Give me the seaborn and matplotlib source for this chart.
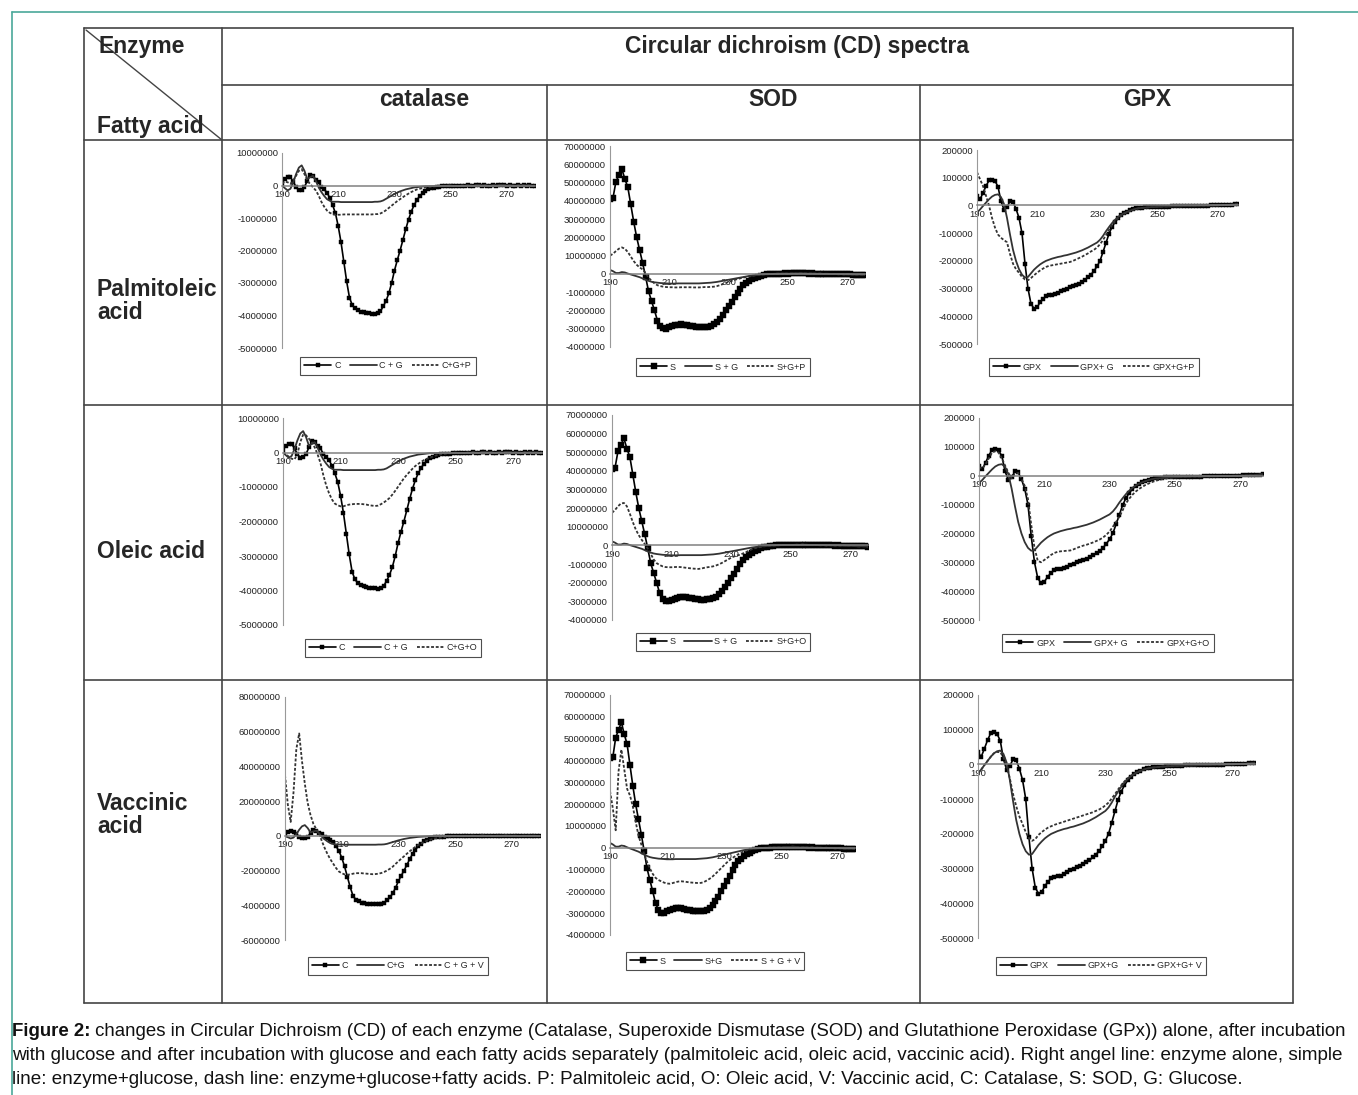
import numpy as np
import matplotlib
matplotlib.use("Agg")
import matplotlib.pyplot as plt
from matplotlib import font_manager
import seaborn as sns

# wavelength grids (nm) for each enzyme
cat_nm = np.arange(190, 281)
sod_nm = np.arange(190, 277)
gpx_nm = np.arange(190, 278)

# ---- Catalase, 190-250 nm (units of the tick steps) ----
cat_c_head = [
    0.05, 0.2, 0.26, 0.25, 0.12, -0.05, -0.15, -0.14, -0.05, 0.15,
    0.32, 0.3, 0.18, 0.12, -0.04, -0.12, -0.22, -0.38, -0.6, -0.85,
    -1.25, -1.75, -2.35, -2.95, -3.45, -3.68, -3.78, -3.84, -3.88, -3.9,
    -3.92, -3.93, -3.94, -3.95, -3.92, -3.87, -3.72, -3.55, -3.32, -3.0,
    -2.62, -2.3, -2.0, -1.68, -1.35, -1.05, -0.8, -0.6, -0.45, -0.32,
    -0.24, -0.17, -0.12, -0.09, -0.07, -0.05, -0.04, -0.03, -0.03, -0.02,
    -0.02]
cat_g_head = [
    0.0, -0.08, -0.15, -0.1, 0.1, 0.35, 0.55, 0.62, 0.45, 0.2,
    0.25, 0.3, 0.15, -0.05, -0.2, -0.32, -0.42, -0.47, -0.5, -0.5,
    -0.5, -0.51, -0.51, -0.51, -0.51, -0.51, -0.51, -0.51, -0.51, -0.51,
    -0.51, -0.51, -0.51, -0.5, -0.5, -0.49, -0.46, -0.41, -0.36, -0.31,
    -0.26, -0.22, -0.18, -0.15, -0.12, -0.1, -0.08, -0.06, -0.05, -0.04,
    -0.03, -0.02, -0.02, -0.02, -0.02, -0.02, -0.01, -0.01, -0.01, -0.01,
    0.0]
cat_p_head = [
    0.05, 0.12, 0.1, 0.05, 0.15, 0.3, 0.45, 0.5, 0.35, 0.15,
    0.05, -0.05, -0.15, -0.3, -0.5, -0.65, -0.77, -0.84, -0.88, -0.9,
    -0.9, -0.9, -0.89, -0.89, -0.89, -0.89, -0.89, -0.89, -0.89, -0.89,
    -0.89, -0.89, -0.89, -0.88, -0.88, -0.86, -0.82, -0.76, -0.69, -0.62,
    -0.55, -0.48, -0.42, -0.36, -0.3, -0.25, -0.2, -0.16, -0.12, -0.1,
    -0.08, -0.06, -0.05, -0.04, -0.03, -0.02, -0.01, -0.01, -0.01, 0.0,
    0.0]
cat_o_head = [
    0.0, -0.05, -0.12, -0.18, -0.2, -0.05, 0.3, 0.52, 0.5, 0.4,
    0.3, 0.15, -0.05, -0.3, -0.65, -0.95, -1.18, -1.36, -1.48, -1.53,
    -1.56, -1.56, -1.53, -1.51, -1.5, -1.49, -1.49, -1.49, -1.5, -1.51,
    -1.53, -1.54, -1.55, -1.54, -1.5, -1.45, -1.39, -1.32, -1.22, -1.11,
    -0.99, -0.87, -0.75, -0.65, -0.56, -0.47, -0.39, -0.33, -0.27, -0.22,
    -0.18, -0.15, -0.12, -0.09, -0.07, -0.05, -0.04, -0.03, -0.02, -0.02,
    -0.01]
cat_v_head = [
    3.5, 1.8, 0.8, 2.5, 5.0, 5.9, 4.3, 3.0, 1.9, 1.2,
    0.7, 0.4, 0.15, -0.3, -0.7, -1.05, -1.35, -1.6, -1.85, -2.05,
    -2.15, -2.22, -2.24, -2.22, -2.18, -2.15, -2.15, -2.15, -2.17, -2.18,
    -2.2, -2.21, -2.2, -2.18, -2.14, -2.08, -2.0, -1.9, -1.78, -1.62,
    -1.47, -1.32, -1.18, -1.03, -0.89, -0.76, -0.64, -0.53, -0.44, -0.36,
    -0.29, -0.24, -0.19, -0.15, -0.12, -0.1, -0.08, -0.06, -0.04, -0.03,
    -0.02]
# 251-280 nm, nearly flat
cat_tail = [
    -0.02, -0.01, -0.02, 0.0, -0.01, 0.01, 0.0, -0.01, 0.01, 0.02,
    0.0, 0.01, 0.0, -0.01, 0.01, 0.0, 0.01, 0.02, 0.01, 0.0,
    0.01, 0.0, -0.01, 0.01, 0.0, 0.01, 0.0, 0.01, -0.01, 0.0]

# ---- SOD, 190-244 nm ----
sod_s_head = [
    4.1, 4.15, 5.05, 5.4, 5.75, 5.2, 4.75, 3.8, 2.85, 2.0,
    1.3, 0.6, -0.15, -0.95, -1.48, -2.0, -2.55, -2.85, -2.97, -3.0,
    -2.92, -2.85, -2.8, -2.77, -2.76, -2.77, -2.8, -2.84, -2.87, -2.9,
    -2.92, -2.92, -2.9, -2.88, -2.84, -2.75, -2.62, -2.45, -2.25, -2.0,
    -1.75, -1.52, -1.28, -1.02, -0.8, -0.62, -0.5, -0.4, -0.3, -0.22,
    -0.15, -0.1, -0.06, -0.03, -0.01]
sod_g_head = [
    0.22, 0.15, 0.05, 0.05, 0.1, 0.08, 0.02, -0.03, -0.08, -0.13,
    -0.18, -0.25, -0.32, -0.38, -0.43, -0.46, -0.48, -0.5, -0.51, -0.52,
    -0.53, -0.53, -0.53, -0.52, -0.52, -0.52, -0.52, -0.52, -0.52, -0.52,
    -0.52, -0.51, -0.5, -0.49, -0.48, -0.46, -0.44, -0.41, -0.38, -0.35,
    -0.32, -0.29, -0.26, -0.23, -0.2, -0.17, -0.14, -0.11, -0.09, -0.07,
    -0.05, -0.04, -0.03, -0.02, -0.01]
sod_p_head = [
    1.0, 1.1, 1.25, 1.38, 1.45, 1.38, 1.2, 0.95, 0.7, 0.5,
    0.35, 0.25, 0.05, -0.2, -0.38, -0.52, -0.62, -0.67, -0.7, -0.72,
    -0.73, -0.73, -0.74, -0.74, -0.73, -0.73, -0.73, -0.73, -0.74, -0.74,
    -0.74, -0.73, -0.72, -0.72, -0.71, -0.7, -0.67, -0.62, -0.56, -0.5,
    -0.44, -0.38, -0.33, -0.28, -0.24, -0.2, -0.17, -0.14, -0.11, -0.08,
    -0.06, -0.04, -0.03, -0.02, -0.01]
sod_o_head = [
    1.75, 1.9, 2.1, 2.25, 2.28, 2.1, 1.7, 1.25, 0.85, 0.55,
    0.3, 0.08, -0.17, -0.45, -0.75, -0.95, -1.05, -1.12, -1.16, -1.17,
    -1.17, -1.16, -1.15, -1.16, -1.18, -1.2, -1.22, -1.24, -1.25, -1.26,
    -1.24, -1.2, -1.17, -1.15, -1.12, -1.07, -1.01, -0.93, -0.84, -0.75,
    -0.66, -0.59, -0.54, -0.5, -0.43, -0.36, -0.28, -0.2, -0.15, -0.11,
    -0.08, -0.05, -0.03, -0.02, -0.01]
sod_v_head = [
    2.6, 1.8, 0.8, 3.5, 4.5, 3.6, 2.7, 2.4, 1.9, 1.2,
    0.55, 0.15, -0.3, -0.65, -0.95, -1.2, -1.38, -1.48, -1.54, -1.6,
    -1.64, -1.65, -1.62, -1.58, -1.55, -1.54, -1.55, -1.57, -1.59, -1.6,
    -1.61, -1.62, -1.61, -1.57, -1.5, -1.42, -1.32, -1.2, -1.07, -0.94,
    -0.81, -0.68, -0.57, -0.47, -0.38, -0.3, -0.23, -0.17, -0.12, -0.08,
    -0.05, -0.03, -0.02, -0.01, 0.0]
# 245-276 nm
sod_tail = [
    0.0, 0.01, 0.02, 0.02, 0.03, 0.02, 0.03, 0.04, 0.03, 0.05,
    0.04, 0.03, 0.02, 0.03, 0.02, 0.01, 0.02, 0.0, 0.01, 0.0,
    -0.01, 0.0, -0.02, -0.01, -0.03, -0.02, -0.03, -0.04, -0.05, -0.04,
    -0.05, -0.06]

# ---- GPX, 190-250 nm (x100000) ----
gpx_c_head = [
    0.35, 0.22, 0.45, 0.7, 0.9, 0.92, 0.88, 0.68, 0.15, -0.15,
    -0.05, 0.15, 0.12, -0.12, -0.45, -1.0, -2.1, -3.0, -3.55, -3.72,
    -3.68, -3.5, -3.38, -3.28, -3.24, -3.22, -3.2, -3.16, -3.1, -3.05,
    -3.0, -2.96, -2.92, -2.88, -2.82, -2.76, -2.68, -2.6, -2.5, -2.36,
    -2.2, -2.0, -1.68, -1.35, -1.02, -0.78, -0.6, -0.46, -0.36, -0.29,
    -0.23, -0.18, -0.14, -0.11, -0.09, -0.08, -0.07, -0.06, -0.06, -0.05,
    -0.05]
gpx_g_head = [
    -0.25, -0.15, -0.02, 0.1, 0.22, 0.32, 0.38, 0.4, 0.3, 0.05,
    -0.45, -1.05, -1.6, -2.0, -2.3, -2.5, -2.6, -2.58, -2.45, -2.32,
    -2.22, -2.13, -2.06, -2.0, -1.96, -1.92, -1.89, -1.86, -1.84, -1.81,
    -1.79, -1.76, -1.73, -1.7, -1.66, -1.62, -1.57, -1.52, -1.46, -1.4,
    -1.34, -1.24, -1.1, -0.93, -0.78, -0.64, -0.52, -0.42, -0.34, -0.28,
    -0.23, -0.19, -0.15, -0.12, -0.1, -0.09, -0.08, -0.07, -0.06, -0.06,
    -0.05]
gpx_p_head = [
    1.2, 0.95, 0.7, 0.35, 0.0, -0.45, -0.8, -1.05, -1.17, -1.25,
    -1.33, -1.75, -2.1, -2.3, -2.43, -2.58, -2.67, -2.7, -2.62, -2.52,
    -2.43, -2.35, -2.28, -2.22, -2.18, -2.16, -2.14, -2.12, -2.1, -2.08,
    -2.06, -2.04, -2.0, -1.95, -1.9, -1.85, -1.79, -1.73, -1.66, -1.6,
    -1.52, -1.4, -1.25, -1.07, -0.88, -0.72, -0.58, -0.47, -0.38, -0.31,
    -0.25, -0.2, -0.16, -0.13, -0.1, -0.09, -0.08, -0.07, -0.06, -0.06,
    -0.05]
gpx_o_head = [
    0.3, 0.25, 0.4, 0.6, 0.8, 0.85, 0.8, 0.6, 0.35, 0.1,
    -0.1, 0.05, 0.1, -0.1, -0.35, -0.8, -1.7, -2.5, -2.95, -3.0,
    -2.92, -2.84, -2.75, -2.68, -2.64, -2.62, -2.61, -2.6, -2.59, -2.55,
    -2.5, -2.46, -2.42, -2.39, -2.35, -2.31, -2.26, -2.21, -2.14, -2.05,
    -1.93, -1.77, -1.6, -1.42, -1.2, -0.96, -0.8, -0.66, -0.55, -0.46,
    -0.39, -0.32, -0.27, -0.22, -0.18, -0.15, -0.12, -0.1, -0.08, -0.07,
    -0.06]
gpx_v_head = [
    -0.25, -0.15, -0.02, 0.1, 0.22, 0.32, 0.36, 0.35, 0.2, -0.05,
    -0.4, -0.85, -1.2, -1.5, -1.72, -1.95, -2.12, -2.2, -2.15, -2.03,
    -1.95, -1.88, -1.82, -1.78, -1.74, -1.71, -1.68, -1.65, -1.62, -1.59,
    -1.56, -1.53, -1.5, -1.47, -1.44, -1.41, -1.38, -1.34, -1.3, -1.25,
    -1.18, -1.1, -0.98, -0.86, -0.72, -0.6, -0.49, -0.4, -0.33, -0.27,
    -0.22, -0.18, -0.15, -0.12, -0.11, -0.09, -0.08, -0.07, -0.06, -0.05,
    -0.05]
# 251-277 nm
gpx_tail = [
    -0.05, -0.04, -0.04, -0.04, -0.03, -0.03, -0.03, -0.03, -0.02, -0.02,
    -0.02, -0.02, -0.02, -0.01, -0.01, -0.01, -0.01, 0.0, 0.0, 0.0,
    0.01, 0.01, 0.02, 0.02, 0.03, 0.04, 0.05]

cat_c = cat_c_head + cat_tail
cat_g = cat_g_head + cat_tail
cat_p = cat_p_head + cat_tail
cat_o = cat_o_head + cat_tail
cat_v = cat_v_head + cat_tail
sod_s = sod_s_head + sod_tail
sod_g = sod_g_head + sod_tail
sod_p = sod_p_head + sod_tail
sod_o = sod_o_head + sod_tail
sod_v = sod_v_head + sod_tail
gpx_c = gpx_c_head + gpx_tail
gpx_g = gpx_g_head + gpx_tail
gpx_p = gpx_p_head + gpx_tail
gpx_o = gpx_o_head + gpx_tail
gpx_v = gpx_v_head + gpx_tail

# tick labels as printed in the figure
cat_ticks = [1, 0, -1, -2, -3, -4, -5]
cat_ticklabels = ['10000000', '0', '-1000000', '-2000000', '-3000000', '-4000000', '-5000000']
cat3_ticks = [8, 6, 4, 2, 0, -2, -4, -6]
cat3_ticklabels = ['80000000', '60000000', '40000000', '20000000', '0', '-2000000', '-4000000', '-6000000']
sod_ticks = [7, 6, 5, 4, 3, 2, 1, 0, -1, -2, -3, -4]
sod_ticklabels = ['70000000', '60000000', '50000000', '40000000', '30000000', '20000000',
                  '10000000', '0', '-1000000', '-2000000', '-3000000', '-4000000']
gpx_ticks = [2, 1, 0, -1, -2, -3, -4, -5]
gpx_ticklabels = ['200000', '100000', '0', '-100000', '-200000', '-300000', '-400000', '-500000']
x_ticks = [190, 210, 230, 250, 270]

enzymes = ['catalase', 'SOD', 'GPX']
fatty_acids = ['Palmitoleic\nacid', 'Oleic acid', 'Vaccinic\nacid']

W, H = 1358, 1095
sns.set_style('white')
names = {f.name for f in font_manager.fontManager.ttflist}
narrow = 'Liberation Sans Narrow' if 'Liberation Sans Narrow' in names else 'Liberation Sans'
plt.rcParams['font.family'] = [narrow, 'DejaVu Sans']
bold_font = 'Liberation Sans'

fig = plt.figure(figsize=(W / 100, H / 100), dpi=100)
bg = fig.add_axes([0, 0, 1, 1])
bg.set_xlim(0, W)
bg.set_ylim(H, 0)
bg.axis('off')

# teal page frame
bg.plot([12, W], [12, 12], color='#4aa89a', lw=1.2)
bg.plot([12, 12], [12, H], color='#4aa89a', lw=1.2)

# table grid
grid_col = '#444444'
for y, x0 in [(28, 84), (85, 222), (140, 84), (405, 84), (680, 84), (1003, 84)]:
    bg.plot([x0, 1293], [y, y], color=grid_col, lw=1.2)
for x, y0 in [(84, 28), (222, 28), (547, 85), (920, 85), (1293, 28)]:
    bg.plot([x, x], [y0, 1003], color=grid_col, lw=1.2)
bg.plot([86, 222], [30, 140], color=grid_col, lw=1.0)

bg.text(99, 46, 'Enzyme', fontsize=16.5, fontweight='bold', family=bold_font, va='center')
bg.text(97, 126, 'Fatty acid', fontsize=16.5, fontweight='bold', family=bold_font, va='center')
bg.text(797, 46, 'Circular dichroism (CD) spectra', fontsize=16.5, fontweight='bold',
        family=bold_font, ha='center', va='center')
for name, cx in zip(enzymes, [424, 773, 1147]):
    bg.text(cx, 100, name, fontsize=16.5, fontweight='bold', family=bold_font, ha='center', va='center')
for name, cy in zip(fatty_acids, [301, 552, 815]):
    bg.text(97, cy, name, fontsize=16.5, fontweight='bold', family=bold_font, va='center',
            linespacing=1.05)

# one entry per cell: data, legend labels, ticks, axes box (px), legend centre (px), marker size
panels = [
    (cat_nm, cat_c, cat_g, cat_p, ['C', 'C + G', 'C+G+P'], cat_ticks, cat_ticklabels,
     (282, 535, 153, 348), (388, 366), 3.0),
    (sod_nm, sod_s, sod_g, sod_p, ['S', 'S + G', 'S+G+P'], sod_ticks, sod_ticklabels,
     (610, 865, 146, 347), (723, 367), 4.2),
    (gpx_nm, gpx_c, gpx_g, gpx_p, ['GPX', 'GPX+ G', 'GPX+G+P'], gpx_ticks, gpx_ticklabels,
     (977, 1238, 150, 344), (1094, 367), 3.4),
    (cat_nm, cat_c, cat_g, cat_o, ['C', 'C + G', 'C+G+O'], cat_ticks, cat_ticklabels,
     (283, 542, 418, 625), (393, 648), 3.0),
    (sod_nm, sod_s, sod_g, sod_o, ['S', 'S + G', 'S+G+O'], sod_ticks, sod_ticklabels,
     (612, 868, 415, 620), (723, 642), 4.2),
    (gpx_nm, gpx_c, gpx_g, gpx_o, ['GPX', 'GPX+ G', 'GPX+G+O'], gpx_ticks, gpx_ticklabels,
     (979, 1263, 418, 620), (1108, 643), 3.4),
    (cat_nm, cat_c, cat_g, cat_v, ['C', 'C+G', 'C + G + V'], cat3_ticks, cat3_ticklabels,
     (285, 540, 697, 940), (398, 966), 3.0),
    (sod_nm, sod_s, sod_g, sod_v, ['S', 'S+G', 'S + G + V'], sod_ticks, sod_ticklabels,
     (610, 855, 695, 935), (715, 961), 4.0),
    (gpx_nm, gpx_c, gpx_g, gpx_v, ['GPX', 'GPX+G', 'GPX+G+ V'], gpx_ticks, gpx_ticklabels,
     (978, 1255, 695, 938), (1101, 966), 3.4),
]

for nm, ctrl, glu, fa, labels, ticks, ticklabels, box, leg_c, ms in panels:
    l, r, t, b = box
    ax = fig.add_axes([l / W, 1 - b / H, (r - l) / W, (b - t) / H])
    ax.set_facecolor('none')
    sns.lineplot(x=nm, y=ctrl, ax=ax, color='black', lw=1.2, marker='s', markersize=ms,
                 markeredgecolor='black', markeredgewidth=0.3, label=labels[0])
    sns.lineplot(x=nm, y=glu, ax=ax, color='#333333', lw=1.3, label=labels[1])
    sns.lineplot(x=nm, y=fa, ax=ax, color='#333333', lw=1.3, linestyle=(0, (1.6, 1.0)),
                 label=labels[2])
    ax.set_xlim(190, nm[-1])
    ax.set_ylim(ticks[-1], ticks[0])
    ax.set_xticks(x_ticks)
    ax.set_yticks(ticks)
    ax.set_yticklabels(ticklabels)
    ax.set_xlabel('')
    ax.set_ylabel('')
    ax.spines['top'].set_visible(False)
    ax.spines['right'].set_visible(False)
    ax.spines['bottom'].set_position(('data', 0))
    ax.spines['bottom'].set_color('#808080')
    ax.spines['bottom'].set_linewidth(1.1)
    ax.spines['left'].set_color('#999999')
    ax.tick_params(length=0, labelsize=6.8, pad=3, labelcolor='#222222')
    leg = ax.legend(loc='center', bbox_to_anchor=(leg_c[0] / W, 1 - leg_c[1] / H),
                    bbox_transform=fig.transFigure, ncol=3, fontsize=6.5, frameon=True,
                    fancybox=False, handlelength=3.0, handletextpad=0.3, columnspacing=1.0,
                    borderpad=0.45)
    leg.get_frame().set_edgecolor('#222222')
    leg.get_frame().set_linewidth(0.8)

# caption, each line stretched to the text width like the justified original
renderer = fig.canvas.get_renderer()


def caption_line(y, bold, rest, target=None, size=11.5):
    x0 = 12
    t1 = bg.text(x0, y, bold, fontsize=size, fontweight='bold', family=narrow, va='center', color='#111111')
    t2 = bg.text(x0, y, rest, fontsize=size, family=narrow, va='center', color='#111111')
    w1 = t1.get_window_extent(renderer).width if bold else 0
    if target:
        total = w1 + t2.get_window_extent(renderer).width
        size = size * target / total
        t1.set_fontsize(size)
        t2.set_fontsize(size)
        w1 = t1.get_window_extent(renderer).width if bold else 0
    t2.set_x(x0 + w1)
    return size


caption_line(1031, 'Figure 2:', ' changes in Circular Dichroism (CD) of each enzyme (Catalase, Superoxide Dismutase '
             '(SOD) and Glutathione Peroxidase (GPx)) alone, after incubation', target=1340)
fs = caption_line(1055, '', 'with glucose and after incubation with glucose and each fatty acids separately '
                  '(palmitoleic acid, oleic acid, vaccinic acid). Right angel line: enzyme alone, simple',
                  target=1340)
caption_line(1079, '', 'line: enzyme+glucose, dash line: enzyme+glucose+fatty acids. P: Palmitoleic acid, '
             'O: Oleic acid, V: Vaccinic acid, C: Catalase, S: SOD, G: Glucose.', size=fs)

fig.savefig('out.png', dpi=100)
